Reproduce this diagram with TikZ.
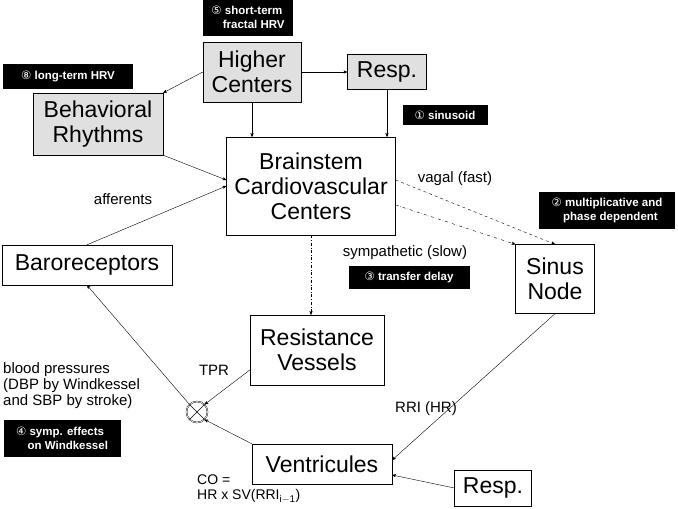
\documentclass[tikz,border=0pt]{standalone}
\usepackage{fontspec}
\setmainfont{Liberation Sans}
\newfontfamily\circfont{DejaVu Sans}
\usepackage{tikz}
\usetikzlibrary{shapes,arrows,arrows.meta}
\newcommand{\cn}[1]{{\circfont\mdseries #1}}
\begin{document}
\begin{tikzpicture}[x=1pt,y=-1pt]
		\useasboundingbox (0,0) rectangle (678,509);
		\begin{scope}
			[
				styleBox/.style={draw, fill=white, align=center, font=\fontsize{23}{25}\selectfont, inner sep=0pt},
				styleGray/.style={styleBox, fill=black!12},
				styleNote/.style={fill=black, text=white, align=left, font=\fontsize{11.5}{14}\selectfont\bfseries, inner sep=2pt},
				styleText/.style={align=left, font=\fontsize{15}{16}\selectfont},
			]
			\node(higher)[styleGray, minimum width=98, minimum height=60] at (252,72) {Higher\\Centers};
			\node(resp1)[styleGray, minimum width=79, minimum height=35] at (387,72) {Resp.};
			\node(behav)[styleGray, minimum width=130, minimum height=62] at (98,124) {Behavioral\\Rhythms};
			\node(brain)[styleBox, minimum width=169, minimum height=98] at (311,186) {Brainstem\\Cardiovascular\\Centers};
			\node(baro)[styleBox, minimum width=170, minimum height=40] at (87,265) {Baroreceptors};
			\node(sinus)[styleBox, minimum width=79, minimum height=69] at (555,279) {Sinus\\Node};
			\node(resist)[styleBox, minimum width=134, minimum height=70] at (317,350) {Resistance\\Vessels};
			\node(vent)[styleBox, minimum width=140, minimum height=40] at (322,464) {Ventricules};
			\node(resp2)[styleBox, minimum width=77, minimum height=36] at (493,488) {Resp.};
			\node(mult)[draw, double, circle, minimum size=21, inner sep=0pt] at (197,412) {};
			\draw (mult.north west) -- (mult.south east) (mult.north east) -- (mult.south west);

			\node(n5)[styleNote, minimum width=90, minimum height=37] at (248,17) {\cn{⑤} short-term\\\quad fractal HRV};
			\node(n8)[styleNote, minimum width=130, minimum height=25] at (68,76) {\cn{⑧} long-term HRV};
			\node(n1)[styleNote, minimum width=85, minimum height=20] at (445,115) {\cn{①} sinusoid};
			\node(n2)[styleNote, minimum width=136, minimum height=37] at (607,210) {\cn{②} multiplicative and\\\quad phase dependent};
			\node(n3)[styleNote, minimum width=121, minimum height=23] at (409,277) {\cn{③} transfer delay};
			\node(n4)[styleNote, minimum width=117, minimum height=37] at (62,438) {\cn{④} symp. effects\\\quad on Windkessel};

			\node(vagal)[styleText] at (455,179) {vagal (fast)};
			\node(aff)[styleText] at (123,199) {afferents};
			\node(symp)[styleText] at (405,253) {sympathetic (slow)};
			\node(tpr)[styleText] at (214,370) {TPR};
			\node(rri)[styleText] at (426,409) {RRI (HR)};
			\node(bp)[styleText, anchor=north west, inner sep=0pt] at (3,362) {blood pressures\\(DBP by Windkessel\\and SBP by stroke)};
			\node(co)[styleText, anchor=north west, inner sep=0pt, font=\fontsize{14}{15}\selectfont] at (197,475) {CO =\\HR x SV(RRI$_{\mathrm{i-1}}$)};
		\end{scope}

		\begin{scope}
			[>=stealth', thin]
			\draw[->] (higher.west) -- (behav.north east);
			\draw[->] (higher) -- (resp1);
			\draw[->] (higher.south) -- (brain.north -| higher.south);
			\draw[->] (resp1.south) -- (brain.north -| resp1.south);
			\draw[->] (behav.south east) -- (brain.west |- 0,180);
			\draw[->] (baro.north) -- (brain.west);
			\draw[->, dashed] (brain.east |- 0,180) -- (sinus.north);
			\draw[->, dash dot] (brain.east |- 0,205) -- (sinus.north west);
			\draw[->, dash dot] (brain.south) -- (resist.north -| brain.south);
			\draw[->] (sinus.south) -- (vent.east |- 0,460);
			\draw[->] (resp2.west) -- (vent.east |- 0,475);
			\draw[->] (vent.north west) -- (mult.south east);
			\draw[->] (resist.west |- 0,370) -- (mult.north east);
			\draw[->] (mult.north west) -- (baro.south);
		\end{scope}
	\end{tikzpicture}
\end{document}
